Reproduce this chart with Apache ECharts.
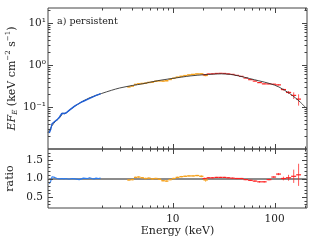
<!DOCTYPE html>
<html><head><meta charset="utf-8">
<script src="https://cdn.jsdelivr.net/npm/echarts@6/dist/echarts.min.js"></script>
<style>html,body{margin:0;padding:0;background:#fff}#c{width:316px;height:242px}</style>
</head><body><div id="c"></div>
<script>
// ---- model curve (keV, EF_E) ----
const modelE = [0.593,0.65,0.7,0.75,0.8,0.83,0.86,0.9,1.0,1.2,1.5,2.0,2.5,3,4,5,7,10,15,20,25,30,37,45,57,70,90,110,140,160,180,208];
const modelF = [0.024,0.036,0.045,0.052,0.062,0.072,0.069,0.073,0.09,0.122,0.163,0.21,0.25,0.283,0.325,0.355,0.42,0.48,0.55,0.585,0.605,0.615,0.595,0.545,0.474,0.42,0.36,0.30,0.21,0.165,0.128,0.09];
// ---- low-energy data (blue) ----
const blueE = [0.61,0.63,0.65,0.67,0.69,0.71,0.73,0.75,0.77,0.79,0.81,0.83,0.85,0.87,0.89,0.92,0.95,0.98,1.02,1.06,1.10,1.15,1.20,1.26,1.32,1.38,1.45,1.52,1.60,1.68,1.76,1.85,1.95];
const blueF = [0.024,0.029,0.040,0.037,0.045,0.046,0.050,0.053,0.058,0.064,0.070,0.075,0.070,0.067,0.072,0.077,0.082,0.087,0.094,0.100,0.108,0.116,0.121,0.130,0.137,0.143,0.152,0.161,0.170,0.178,0.188,0.198,0.209];
const blueR = [0.86,0.92,1.05,1.0,1.03,1.02,1.0,1.01,0.99,1.02,1.0,1.03,0.99,1.01,1.0,1.02,0.98,1.01,1.0,1.02,0.99,1.0,0.97,0.99,1.01,0.98,1.0,1.02,1.0,0.99,1.01,1.0,1.01];
// ---- mid-energy data (orange) ----
const orangeE = [3.7,4.0,4.3,4.6,5.0,5.4,5.8,6.3,6.8,7.4,8.0,8.7,9.4,10.2,11.1,12.1,13.2,14.4,15.8,17.3,19.0,21.0];
const orangeF = [0.301,0.315,0.344,0.356,0.362,0.368,0.384,0.391,0.41,0.419,0.414,0.421,0.453,0.482,0.512,0.536,0.557,0.578,0.594,0.611,0.613,0.566];
const orangeR = [0.96,0.97,1.03,1.04,1.02,1.0,1.01,0.99,1.0,0.98,0.94,0.93,0.97,1.0,1.03,1.05,1.06,1.07,1.07,1.08,1.06,0.96];
const orangeErr = [0.02,0.02,0.02,0.02,0.02,0.02,0.02,0.02,0.02,0.02,0.02,0.02,0.02,0.02,0.02,0.02,0.02,0.02,0.02,0.02,0.03,0.05];
// ---- high-energy data (red) ----
const redE = [20.5,22.5,24.5,27,29.5,32,35,38.5,42.5,47,52,58,64,71,79,88,98,109,122,137,154,172];
const redF = [0.587,0.609,0.615,0.628,0.632,0.628,0.612,0.596,0.565,0.535,0.49,0.447,0.414,0.38,0.355,0.354,0.348,0.336,0.26,0.222,0.189,0.154];
const redR = [1.0,1.02,1.02,1.03,1.03,1.03,1.02,1.01,1.0,1.0,0.97,0.95,0.93,0.91,0.91,0.97,1.04,1.12,1.0,1.02,1.06,1.1];
const redErr = [0.02,0.015,0.015,0.015,0.015,0.015,0.015,0.015,0.015,0.015,0.015,0.015,0.02,0.02,0.02,0.02,0.025,0.03,0.05,0.08,0.18,0.3];
// ---- ticks / labels ----
const xMajorTicks = [10,100];
const xMinorTicks = [2,3,4,5,6,7,8,9,20,30,40,50,60,70,80,90,200];
const xTickLabels = ['10','100'];
const fluxMajorTicks = [0.1,1,10];
const fluxMinorTicks = [0.02,0.03,0.04,0.05,0.06,0.07,0.08,0.09,0.2,0.3,0.4,0.5,0.6,0.7,0.8,0.9,2,3,4,5,6,7,8,9,20];
const fluxLabelValues = [0.1,1,10];
const fluxLabelTexts = ['10⁻¹','10⁰','10¹'];
const ratioMajorTicks = [0.5,1.0,1.5];
const ratioMinorTicks = [0.3,0.4,0.6,0.7,0.8,0.9,1.1,1.2,1.3,1.4,1.6,1.7];
const ratioTickLabels = ['0.5','1.0','1.5'];

const FONT = 'DejaVu Serif';
const AX = '#444';
const TXT = '#222';
const BLUE = '#1f5fd6', BLUE2 = '#2a7bf0', ORANGE = '#f7a21b', RED = '#ff2020';

function edges(E) {
  const lo = [], hi = [];
  for (let i = 0; i < E.length; i++) {
    const prev = i > 0 ? Math.sqrt(E[i-1]*E[i]) : E[i]*E[i]/Math.sqrt(E[i]*E[i+1]);
    const next = i < E.length-1 ? Math.sqrt(E[i]*E[i+1]) : E[i]*E[i]/Math.sqrt(E[i-1]*E[i]);
    lo.push(prev); hi.push(next);
  }
  return [lo, hi];
}
function errData(E, V, relErr, isRatio) {
  const [lo, hi] = edges(E);
  return E.map((e, i) => {
    const err = isRatio ? relErr[i] : relErr[i] * V[i];
    return [e, V[i], lo[i], hi[i], V[i]-err, V[i]+err];
  });
}
function errRender(color, width) {
  return function (params, api) {
    const e = api.value(0), v = api.value(1);
    const pL = api.coord([api.value(2), v]);
    const pR = api.coord([api.value(3), v]);
    const pB = api.coord([e, api.value(4)]);
    const pT = api.coord([e, api.value(5)]);
    return { type: 'group', children: [
      { type: 'line', shape: { x1: pL[0], y1: pL[1], x2: pR[0], y2: pR[1] }, style: { stroke: color, lineWidth: width } },
      { type: 'line', shape: { x1: pB[0], y1: pB[1], x2: pT[0], y2: pT[1] }, style: { stroke: color, lineWidth: 1, opacity: 0.75 } }
    ]};
  };
}
function tickData(xMaj, xMin, yMaj, yMin, yRef, xRef) {
  const d = [];
  xMaj.forEach(v => d.push([v, yRef, 0, 1]));
  xMin.forEach(v => d.push([v, yRef, 0, 0]));
  yMaj.forEach(v => d.push([xRef, v, 1, 1]));
  yMin.forEach(v => d.push([xRef, v, 1, 0]));
  return d;
}
function tickRender(params, api) {
  const cs = params.coordSys;
  const p = api.coord([api.value(0), api.value(1)]);
  const len = api.value(3) ? 5 : 2.5;
  const st = { stroke: AX, lineWidth: 1 };
  if (api.value(2) === 0) {
    const x = Math.round(p[0]) + 0.5;
    return { type: 'group', children: [
      { type: 'line', shape: { x1: x, y1: cs.y + cs.height, x2: x, y2: cs.y + cs.height - len }, style: st },
      { type: 'line', shape: { x1: x, y1: cs.y, x2: x, y2: cs.y + len }, style: st }
    ]};
  } else {
    const y = Math.round(p[1]) + 0.5;
    return { type: 'group', children: [
      { type: 'line', shape: { x1: cs.x, y1: y, x2: cs.x + len, y2: y }, style: st },
      { type: 'line', shape: { x1: cs.x + cs.width, y1: y, x2: cs.x + cs.width - len, y2: y }, style: st }
    ]};
  }
}
function fluxLabelRender(params, api) {
  const cs = params.coordSys;
  const p = api.coord([api.value(0), api.value(1)]);
  return { type: 'text', style: { text: fluxLabelTexts[params.dataIndex], x: cs.x - 2, y: p[1],
    align: 'right', verticalAlign: 'middle', fontFamily: FONT, fontSize: 10.5, fill: TXT } };
}
function isPow10(v) { const e = Math.log10(v); return Math.abs(e - Math.round(e)) < 1e-6 ? Math.round(e) : null; }

const chart = echarts.init(document.getElementById('c'), null, { renderer: 'canvas' });
const xBase = { type: 'log', logBase: 10, min: 0.593, max: 208, splitLine: { show: false }, axisLine: { show: false }, axisTick: { show: false } };
chart.setOption({
  animation: false,
  backgroundColor: '#fff',
  title: { text: 'a) persistent', left: 57, top: 17, padding: 0, textStyle: { fontFamily: FONT, fontSize: 9.5, fontWeight: 'normal', color: TXT } },
  grid: [
    { left: 48, top: 8, width: 259, height: 141, show: true, borderColor: AX, borderWidth: 1, backgroundColor: 'transparent', containLabel: false, outerBoundsMode: 'none' },
    { left: 48, top: 149, width: 259, height: 59, show: true, borderColor: AX, borderWidth: 1, backgroundColor: 'transparent', containLabel: false, outerBoundsMode: 'none' }
  ],
  xAxis: [
    Object.assign({ gridIndex: 0, axisLabel: { show: false } }, xBase),
    Object.assign({ gridIndex: 1,
      name: 'Energy (keV)', nameLocation: 'middle', nameGap: 18,
      nameTextStyle: { fontFamily: FONT, fontSize: 11, color: TXT },
      axisLabel: { margin: 6, fontFamily: FONT, fontSize: 10.5, color: TXT,
        formatter: v => { const e = isPow10(v); if (e === null) return ''; const s = String(Math.round(Math.pow(10, e))); return xTickLabels.includes(s) ? s : ''; } } }, xBase)
  ],
  yAxis: [
    { gridIndex: 0, type: 'log', logBase: 10, min: 0.01, max: 22.7, splitLine: { show: false }, axisLine: { show: false }, axisTick: { show: false },
      axisLabel: { show: false },
      name: '{i|EF}{sub|E} (keV cm{sup|−2} s{sup|−1})', nameLocation: 'middle', nameGap: 29,
      nameTextStyle: { fontFamily: FONT, fontSize: 11, color: TXT,
        rich: { i: { fontFamily: FONT, fontSize: 11, fontStyle: 'italic', color: TXT, lineHeight: 14, verticalAlign: 'middle' },
                sub: { fontFamily: FONT, fontSize: 7, fontStyle: 'italic', color: TXT, lineHeight: 14, verticalAlign: 'bottom' },
                sup: { fontFamily: FONT, fontSize: 7, color: TXT, lineHeight: 14, verticalAlign: 'top' } } } },
    { gridIndex: 1, type: 'value', min: 0.2, max: 1.8, interval: 0.1, splitLine: { show: false }, axisLine: { show: false }, axisTick: { show: false },
      name: 'ratio', nameLocation: 'middle', nameGap: 26,
      nameTextStyle: { fontFamily: FONT, fontSize: 11, color: TXT },
      axisLabel: { margin: 5, fontFamily: FONT, fontSize: 10.5, color: TXT, showMinLabel: true, showMaxLabel: true,
        formatter: v => { const s = (Math.round(v * 10) / 10).toFixed(1); return ratioTickLabels.includes(s) ? s : ''; } } }
  ],
  series: [
    { type: 'custom', xAxisIndex: 0, yAxisIndex: 0, renderItem: errRender(ORANGE, 1.5), data: errData(orangeE, orangeF, orangeErr, false), z: 3, clip: false },
    { type: 'custom', xAxisIndex: 0, yAxisIndex: 0, renderItem: errRender(RED, 1.2), data: errData(redE, redF, redErr, false), z: 3, clip: false },
    { type: 'line', xAxisIndex: 0, yAxisIndex: 0, data: modelE.map((e, i) => [e, modelF[i]]), showSymbol: false, symbol: 'none', smooth: 0.3,
      lineStyle: { color: '#333', width: 0.9 }, z: 4 },
    { type: 'line', xAxisIndex: 0, yAxisIndex: 0, data: blueE.map((e, i) => [e, blueF[i]]), showSymbol: false, symbol: 'none',
      lineStyle: { color: BLUE, width: 1.4 }, z: 5 },
    { type: 'line', xAxisIndex: 1, yAxisIndex: 1, data: blueE.map((e, i) => [e, blueR[i]]), showSymbol: false, symbol: 'none',
      lineStyle: { color: BLUE2, width: 1.1 }, z: 5,
      markLine: { silent: true, symbol: 'none', label: { show: false }, data: [{ yAxis: 1 }], lineStyle: { color: '#8c8c8c', width: 2, type: 'solid' }, z: 2 } },
    { type: 'custom', xAxisIndex: 1, yAxisIndex: 1, renderItem: errRender(ORANGE, 1.3), data: errData(orangeE, orangeR, orangeErr, true), z: 4, clip: false },
    { type: 'custom', xAxisIndex: 1, yAxisIndex: 1, renderItem: errRender(RED, 1.2), data: errData(redE, redR, redErr, true), z: 4, clip: false },
    { type: 'custom', xAxisIndex: 0, yAxisIndex: 0, renderItem: tickRender, silent: true, clip: false, z: 10,
      data: tickData(xMajorTicks, xMinorTicks, fluxMajorTicks, fluxMinorTicks, 1, 10) },
    { type: 'custom', xAxisIndex: 1, yAxisIndex: 1, renderItem: tickRender, silent: true, clip: false, z: 10,
      data: tickData(xMajorTicks, xMinorTicks, ratioMajorTicks, ratioMinorTicks, 1, 10) },
    { type: 'custom', xAxisIndex: 0, yAxisIndex: 0, renderItem: fluxLabelRender, silent: true, clip: false, z: 10,
      data: fluxLabelValues.map(v => [10, v]) }
  ]
});
</script></body></html>
